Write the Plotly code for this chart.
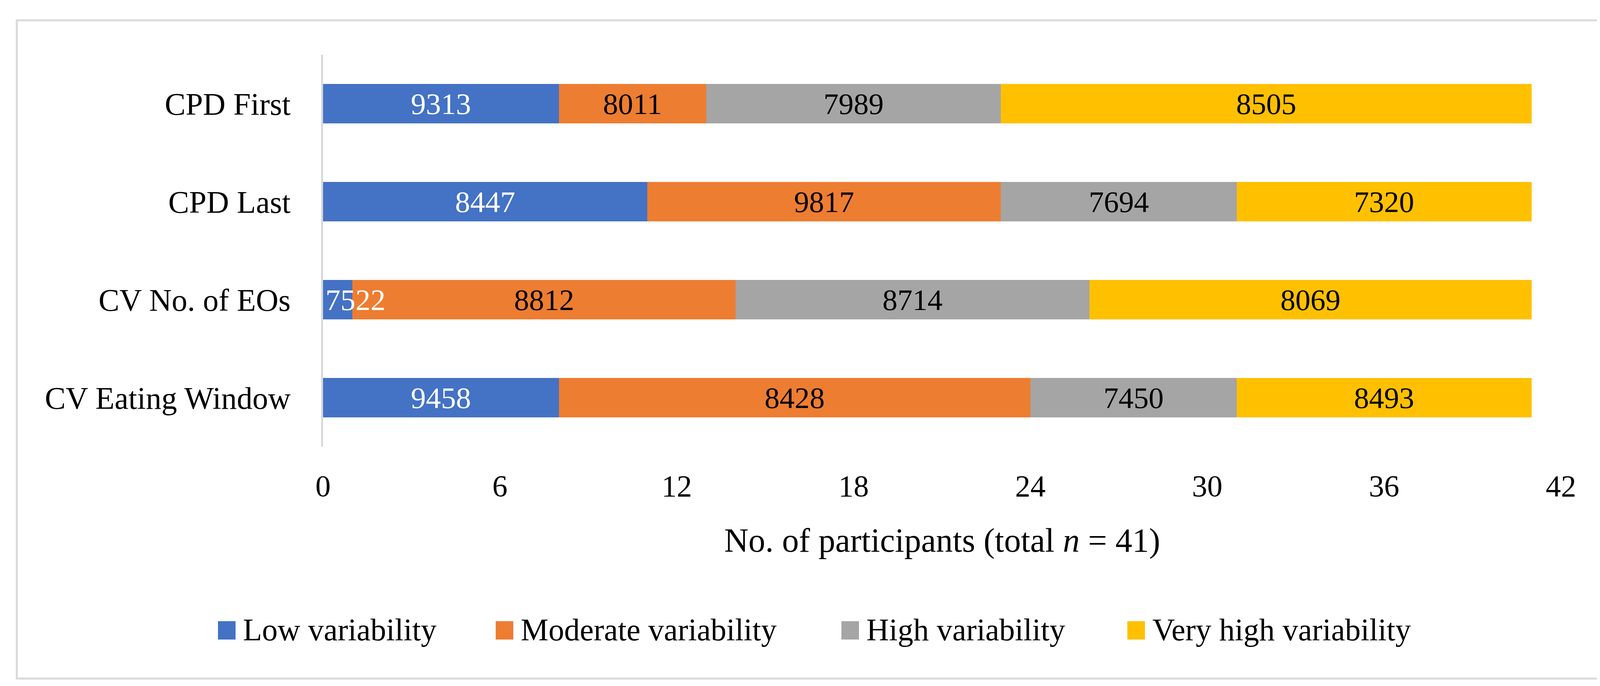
import plotly.graph_objects as go

# ---- data ----
categories = ["CPD First", "CPD Last", "CV No. of EOs", "CV Eating Window"]
series_names = ["Low variability", "Moderate variability", "High variability", "Very high variability"]
low_vals = [8, 11, 1, 8]
moderate_vals = [5, 12, 13, 16]
high_vals = [10, 8, 12, 7]
very_high_vals = [18, 10, 15, 10]
low_labels = ["9313", "8447", "7522", "9458"]
moderate_labels = ["8011", "9817", "8812", "8428"]
high_labels = ["7989", "7694", "8714", "7450"]
very_high_labels = ["8505", "7320", "8069", "8493"]
x_ticks = [0, 6, 12, 18, 24, 30, 36, 42]

# ---- styles ----
W, H = 4164, 1757
L, R, T, B = 819, W - 3988, 132, H - 1136
colors = ["#4472C4", "#ED7D31", "#A5A5A5", "#FFC000"]
text_colors = ["white", "black", "black", "black"]
FONT = "Liberation Serif, Times New Roman, serif"
LABEL_SIZE = 77

values = [low_vals, moderate_vals, high_vals, very_high_vals]
labels = [low_labels, moderate_labels, high_labels, very_high_labels]

fig = go.Figure()
overflow = []
for i, (name, vals, labs) in enumerate(zip(series_names, values, labels)):
    shown = []
    for c, v, t in zip(categories, vals, labs):
        if v < 2:
            overflow.append((c, t, text_colors[i]))
            shown.append("")
        else:
            shown.append(t)
    fig.add_trace(go.Bar(
        name=name, y=categories, x=vals, orientation="h",
        marker=dict(color=colors[i], line=dict(width=0)),
        text=shown, textposition="inside", insidetextanchor="middle",
        textangle=0,
        textfont=dict(family=FONT, size=LABEL_SIZE, color=text_colors[i]),
        showlegend=False, hoverinfo="skip",
    ))

annotations = []
for c, t, col in overflow:
    annotations.append(dict(
        x=0, y=c, xref="x", yref="y", text=t, showarrow=False,
        xanchor="left", yanchor="middle", xshift=4,
        font=dict(family=FONT, size=LABEL_SIZE, color=col),
    ))

pw = W - L - R
ph = H - T - B
def px(xp):
    return (xp - L) / pw
def py(yp):
    return 1 - (yp - T) / ph

# legend (manual, to match large square swatches)
legend_x = [550, 1261, 2146, 2878]
shapes = []
for i, name in enumerate(series_names):
    x0 = legend_x[i]
    shapes.append(dict(type="rect", xref="paper", yref="paper",
                       x0=px(x0), x1=px(x0 + 45), y0=py(1583), y1=py(1630),
                       fillcolor=colors[i], line=dict(width=0)))
    annotations.append(dict(x=px(x0 + 62), y=py(1605), xref="paper", yref="paper",
                            text=name, showarrow=False, xanchor="left", yanchor="middle",
                            font=dict(family=FONT, size=80, color="black")))

# axis title
annotations.append(dict(x=0.5, y=py(1376), xref="paper", yref="paper",
                        text="No. of participants (total <i>n</i> = 41)", showarrow=False,
                        xanchor="center", yanchor="middle",
                        font=dict(family=FONT, size=86, color="black")))

# outer border
shapes.append(dict(type="rect", xref="paper", yref="paper",
                   x0=px(35), x1=px(4116), y0=py(44), y1=py(1730),
                   line=dict(color="#D9D9D9", width=5), fillcolor="rgba(0,0,0,0)", layer="below"))

fig.update_layout(
    barmode="stack", bargap=0.6,
    width=W, height=H,
    margin=dict(l=L, r=R, t=T, b=B, pad=0),
    paper_bgcolor="white", plot_bgcolor="white",
    font=dict(family=FONT, color="black"),
    uniformtext=dict(minsize=LABEL_SIZE, mode="show"),
    shapes=shapes, annotations=annotations,
    xaxis=dict(range=[0, 42], tickmode="array", tickvals=x_ticks,
               ticktext=[str(v) for v in x_ticks],
               showgrid=False, zeroline=False, showline=False,
               ticks="", ticklabelstandoff=48,
               tickfont=dict(family=FONT, size=78, color="black")),
    yaxis=dict(autorange="reversed", showgrid=False, zeroline=False,
               showline=True, linecolor="#D9D9D9", linewidth=5,
               ticks="", ticklabelstandoff=62,
               tickfont=dict(family=FONT, size=80, color="black")),
)

fig.write_html("out.html")
